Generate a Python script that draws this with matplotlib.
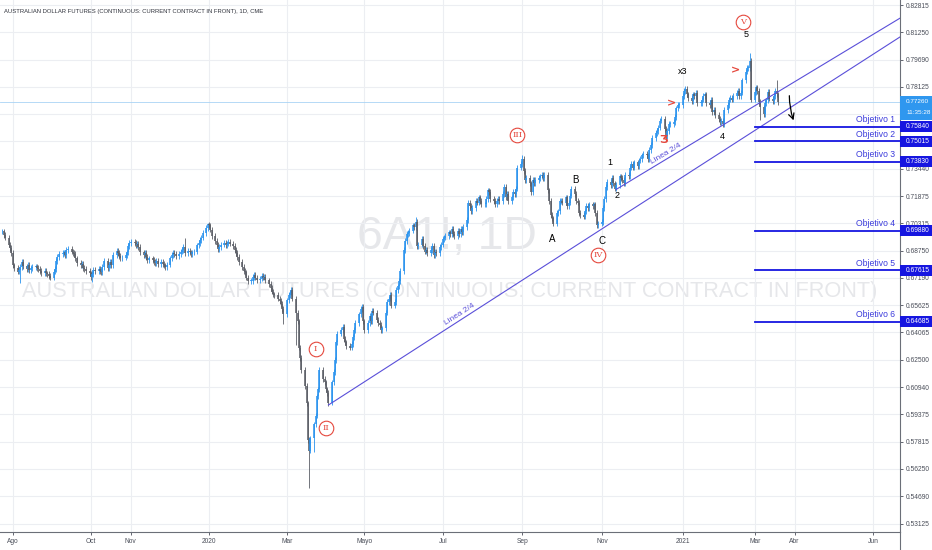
import numpy as np
import pandas as pd
import matplotlib
matplotlib.use("Agg")
import matplotlib.pyplot as plt
import matplotlib.dates as mdates
from matplotlib.patches import Rectangle
from matplotlib.transforms import blended_transform_factory

FONT = ['Liberation Sans Narrow', 'Liberation Sans', 'DejaVu Sans']
plt.rcParams['font.family'] = FONT

TITLE = "AUSTRALIAN DOLLAR FUTURES (CONTINUOUS: CURRENT CONTRACT IN FRONT), 1D, CME"
WATERMARK_1 = "6A1!, 1D"
WATERMARK_2 = "AUSTRALIAN DOLLAR FUTURES (CONTINUOUS: CURRENT CONTRACT IN FRONT)"

# daily closes, in 1/10000 USD, one list per month
close_2019_07 = [6985, 6965, 6950, 6910, 6890, 6860]
close_2019_08 = [6790, 6775, 6755, 6765, 6780, 6810, 6785, 6770, 6795, 6765, 6775,
                 6780, 6785, 6775, 6770, 6760, 6745, 6760, 6745, 6740, 6730, 6720]
close_2019_09 = [6755, 6770, 6815, 6840, 6855, 6860, 6865, 6850, 6880, 6885, 6870,
                 6860, 6855, 6830, 6805, 6790, 6800, 6775, 6770, 6760, 6745]
close_2019_10 = [6725, 6740, 6765, 6760, 6770, 6760, 6750, 6780, 6815, 6775, 6790,
                 6810, 6790, 6850, 6875, 6860, 6845, 6830, 6835, 6850, 6865, 6900, 6920]
close_2019_11 = [6925, 6920, 6905, 6915, 6895, 6865, 6850, 6860, 6840, 6820, 6830,
                 6820, 6810, 6805, 6815, 6800, 6810, 6800, 6790, 6780, 6795]
close_2019_12 = [6830, 6850, 6860, 6855, 6845, 6855, 6870, 6880, 6895, 6860, 6875,
                 6865, 6855, 6865, 6870, 6905, 6920, 6935, 6950, 6975, 7005, 7025]
close_2020_01 = [7020, 6995, 6960, 6930, 6910, 6885, 6895, 6910, 6920, 6905, 6915,
                 6925, 6915, 6900, 6880, 6860, 6840, 6810, 6780, 6760, 6750, 6720, 6700]
close_2020_02 = [6700, 6725, 6735, 6720, 6705, 6715, 6730, 6720, 6725, 6705,
                 6685, 6660, 6640, 6625, 6620, 6600, 6585, 6570, 6540, 6510]
close_2020_03 = [6590, 6620, 6635, 6650, 6600, 6520, 6470, 6320, 6260, 6190, 6100,
                 6000, 5790, 5730, 5800, 5880, 5930, 6040, 6080, 6190, 6140, 6120]
close_2020_04 = [6080, 6060, 6005, 6120, 6180, 6250, 6350, 6400, 6420, 6440, 6370,
                 6350, 6330, 6320, 6340, 6380, 6420, 6460, 6510, 6540, 6555, 6470]
close_2020_05 = [6420, 6460, 6500, 6470, 6530, 6520, 6480, 6460, 6450, 6420, 6430,
                 6520, 6580, 6600, 6620, 6560, 6580, 6650, 6670, 6700, 6760]
close_2020_06 = [6880, 6930, 6970, 6975, 6990, 7020, 7010, 7040, 6900, 6910, 6940,
                 6900, 6870, 6880, 6860, 6880, 6900, 6850, 6870, 6860, 6895, 6910]
close_2020_07 = [6940, 6950, 6960, 6980, 6970, 7000, 6970, 6960, 6990, 6970, 7000,
                 6980, 7010, 7050, 7150, 7130, 7100, 7120, 7160, 7150, 7180, 7160, 7140]
close_2020_08 = [7140, 7170, 7220, 7210, 7170, 7160, 7140, 7160, 7170, 7160, 7200,
                 7240, 7180, 7200, 7160, 7180, 7210, 7200, 7230, 7350, 7370]
close_2020_09 = [7400, 7330, 7280, 7290, 7260, 7210, 7280, 7260, 7280, 7290, 7300,
                 7310, 7290, 7310, 7220, 7160, 7080, 7060, 7030, 7090, 7100, 7160]
close_2020_10 = [7160, 7150, 7180, 7130, 7150, 7190, 7230, 7200, 7160, 7150, 7090,
                 7080, 7070, 7100, 7130, 7120, 7140, 7130, 7140, 7090, 7020, 7030]
close_2020_11 = [7040, 7120, 7170, 7240, 7270, 7250, 7290, 7260, 7230, 7250, 7300,
                 7290, 7280, 7260, 7310, 7300, 7350, 7370, 7350, 7380, 7360]
close_2020_12 = [7390, 7400, 7420, 7430, 7420, 7400, 7450, 7480, 7520, 7550, 7560,
                 7580, 7620, 7630, 7570, 7530, 7560, 7600, 7600, 7610, 7640, 7690, 7710]
close_2021_01 = [7710, 7760, 7790, 7800, 7770, 7750, 7730, 7770, 7760, 7780, 7720,
                 7720, 7740, 7760, 7770, 7720, 7710, 7740, 7670, 7680, 7650]
close_2021_02 = [7630, 7610, 7620, 7600, 7680, 7710, 7740, 7750, 7740, 7760,
                 7780, 7790, 7760, 7780, 7850, 7900, 7920, 7920, 7960, 7740]
close_2021_03 = [7785, 7810, 7790, 7725, 7695, 7655, 7720, 7735, 7785, 7745,
                 7730, 7760, 7790, 7770, 7726]

months = [("2019-07-24", close_2019_07), ("2019-08-01", close_2019_08),
          ("2019-09-01", close_2019_09), ("2019-10-01", close_2019_10),
          ("2019-11-01", close_2019_11), ("2019-12-01", close_2019_12),
          ("2020-01-01", close_2020_01), ("2020-02-01", close_2020_02),
          ("2020-03-01", close_2020_03), ("2020-04-01", close_2020_04),
          ("2020-05-01", close_2020_05), ("2020-06-01", close_2020_06),
          ("2020-07-01", close_2020_07), ("2020-08-01", close_2020_08),
          ("2020-09-01", close_2020_09), ("2020-10-01", close_2020_10),
          ("2020-11-01", close_2020_11), ("2020-12-01", close_2020_12),
          ("2021-01-01", close_2021_01), ("2021-02-01", close_2021_02),
          ("2021-03-01", close_2021_03)]

# the long wicks that stand out
wick_highs = {"2019-12-13": 0.6945, "2019-12-31": 0.7035, "2020-06-10": 0.7065,
              "2020-09-01": 0.7420, "2021-01-06": 0.7820, "2021-02-25": 0.8007,
              "2021-03-18": 0.7850}
wick_lows = {"2019-08-07": 0.6690, "2019-10-02": 0.6695, "2020-02-28": 0.6455,
             "2020-03-09": 0.6335, "2020-03-19": 0.5516, "2020-03-23": 0.5720,
             "2020-04-03": 0.5985, "2021-03-05": 0.7625}

last_price = 0.77260
countdown = "11:35:28"

objective_names = ["Objetivo 1", "Objetivo 2", "Objetivo 3", "Objetivo 4", "Objetivo 5", "Objetivo 6"]
objective_prices = [0.75840, 0.75015, 0.73830, 0.69880, 0.67615, 0.64685]
objective_start = "2021-03-01"

# channel lines (Linea 2/4)
lower_line = [("2020-04-03", 0.5991), ("2021-06-21", 0.8093)]
upper_line = [("2020-11-13", 0.7225), ("2021-06-21", 0.8201)]
lower_line_label = "2020-07-16"
upper_line_label = "2020-12-23"

wave_labels = [("I", "2020-03-24", 0.6312), ("II", "2020-04-01", 0.5859),
               ("III", "2020-08-28", 0.7537), ("IV", "2020-10-30", 0.6850),
               ("V", "2021-02-20", 0.8184)]
point_labels = [("A", "2020-09-24", 0.6942), ("B", "2020-10-12", 0.7280),
                ("C", "2020-11-02", 0.6930), ("1", "2020-11-08", 0.7377),
                ("2", "2020-11-14", 0.7188), ("x3", "2021-01-04", 0.7898),
                ("4", "2021-02-04", 0.7526), ("5", "2021-02-22", 0.8110)]
chevrons = [("2020-12-26", 0.7720), ("2021-02-14", 0.7905)]
zigzag = ("2020-12-20", 0.7508)
arrow_from = ("2021-03-28", 0.7778)
arrow_to = ("2021-04-01", 0.7606)

price_ticks = [n / 64 for n in range(34, 54)]
# 0.75000 and 0.76565 sit under the price boxes and are not visible
price_tick_labels = ["0.53125", "0.54690", "0.56250", "0.57815", "0.59375", "0.60940",
                     "0.62500", "0.64065", "0.65625", "0.67190", "0.68750", "0.70315",
                     "0.71875", "0.73440", "", "", "0.78125", "0.79690",
                     "0.81250", "0.82815"]
x_tick_dates = ["2019-08-01", "2019-10-01", "2019-11-01", "2020-01-01", "2020-03-02",
                "2020-05-01", "2020-07-01", "2020-09-01", "2020-11-02", "2021-01-04",
                "2021-03-01", "2021-04-01", "2021-06-01"]
x_tick_labels = ["Ago", "Oct", "Nov", "2020", "Mar", "Mayo", "Jul", "Sep", "Nov",
                 "2021", "Mar", "Abr", "Jun"]

UP = "#2a93ee"
DOWN = "#5b5e66"
RED = "#e5483d"
CHANNEL = "#5a4fd9"
OBJ = "#1616e0"
OBJ_TEXT = "#3b3bdc"
GRID = "#eceef2"


def d2n(s):
    return mdates.date2num(pd.Timestamp(s))


# build the daily series
dates, closes = [], []
for start, vals in months:
    start = pd.Timestamp(start)
    days = pd.bdate_range(start, start + pd.offsets.MonthEnd(0))[:len(vals)]
    dates.extend(days)
    closes.extend(v / 10000 for v in vals[:len(days)])
closes = np.array(closes)
opens = np.r_[closes[0], closes[:-1]]
pad = 0.0016
highs = np.maximum(opens, closes) + pad
lows = np.minimum(opens, closes) - pad
index = {d: i for i, d in enumerate(dates)}
for d, v in wick_highs.items():
    highs[index[pd.Timestamp(d)]] = v
for d, v in wick_lows.items():
    lows[index[pd.Timestamp(d)]] = v
x = mdates.date2num(dates)
colors = np.where(closes >= opens, UP, DOWN)
body_lo = np.minimum(opens, closes)
body_hi = np.maximum(np.maximum(opens, closes), body_lo + 0.0004)

fig = plt.figure(figsize=(9.32, 5.5), dpi=100)
ax = fig.add_axes([0, 18 / 550, 900 / 932, 532 / 550])
ax.set_facecolor("white")

# pixel scale of the reference: 1.284 px per day, 0.0005726 per px
x0 = d2n("2020-01-01")
ax.set_xlim(x0 - 209 / 1.284, x0 + 691 / 1.284)
ax.set_ylim(0.82815 - 527 * 0.0005726, 0.82815 + 5 * 0.0005726)

ax.set_yticks(price_ticks)
ax.set_yticklabels(price_tick_labels)
ax.set_xticks([d2n(d) for d in x_tick_dates])
ax.set_xticklabels(x_tick_labels)
ax.yaxis.tick_right()
ax.tick_params(axis="y", length=2.5, width=0.6, pad=2, labelsize=4.8,
               colors="#4a4e59")
ax.tick_params(axis="x", length=2, width=0.6, pad=2.5, labelsize=4.8,
               colors="#4a4e59")
ax.grid(True, color=GRID, lw=0.8)
ax.set_axisbelow(True)
for side in ("top", "left"):
    ax.spines[side].set_visible(False)
for side in ("right", "bottom"):
    ax.spines[side].set_color("#6b6f78")
    ax.spines[side].set_linewidth(0.8)

# watermark
wm1 = ax.text(0.497, 1 - 237 / 532, WATERMARK_1, transform=ax.transAxes,
              ha="center", va="center", color="#e6e7ea", fontsize=40, zorder=0)
wm2 = ax.text(0.5, 1 - 292 / 532, WATERMARK_2, transform=ax.transAxes,
              ha="center", va="center", color="#e6e7ea", fontsize=20, zorder=0)
title = fig.text(4 / 932, 1 - 11 / 550, TITLE, ha="left", va="center",
                 color="#2f323b", fontsize=5)

fig.canvas.draw()
renderer = fig.canvas.get_renderer()
for t, w in ((wm1, 180), (wm2, 856), (title, 261)):
    t.set_fontsize(t.get_fontsize() * w / t.get_window_extent(renderer).width)

# last price line
ax.axhline(last_price, color="#a9d3f5", lw=0.6, zorder=1)

# candles
ax.vlines(x, lows, highs, colors=colors, lw=0.6, zorder=3)
ax.vlines(x, body_lo, body_hi, colors=colors, lw=1.15, zorder=3)

# channel lines
for line, lab in ((lower_line, lower_line_label), (upper_line, upper_line_label)):
    (da, pa), (db, pb) = line
    xa, xb = d2n(da), d2n(db)
    slope = (pb - pa) / (xb - xa)
    xe = xb + 60
    ax.plot([xa, xe], [pa, pa + slope * (xe - xa)], color=CHANNEL, lw=0.8, zorder=4)
    xl = d2n(lab)
    yl = pa + slope * (xl - xa)
    p1 = ax.transData.transform((xa, pa))
    p2 = ax.transData.transform((xb, pb))
    ang = np.degrees(np.arctan2(p2[1] - p1[1], p2[0] - p1[0]))
    ax.annotate("Linea 2/4", (xl, yl), xytext=(0, 1.5), textcoords="offset points",
                rotation=ang, rotation_mode="anchor", ha="center", va="bottom",
                color=CHANNEL, fontsize=6, zorder=4)

# objectives
blend = blended_transform_factory(ax.transAxes, ax.transData)
px = 0.0005726
for name, price in zip(objective_names, objective_prices):
    ax.plot([d2n(objective_start), ax.get_xlim()[1]], [price, price],
            color=OBJ, lw=1.3, zorder=4)
    ax.annotate(name, (895 / 900, price), xycoords=blend, xytext=(0, 1.8),
                textcoords="offset points", ha="right", va="bottom",
                color=OBJ_TEXT, fontsize=6.2, zorder=5)
    ax.add_patch(Rectangle((1.0, price - 5.5 * px), 32 / 900, 11 * px,
                           transform=blend, clip_on=False, fc=OBJ, ec="none",
                           zorder=6))
    ax.text(1.0 + 6 / 900, price, "%.5f" % price, transform=blend, ha="left",
            va="center", color="white", fontsize=4.8, zorder=7, clip_on=False)

# last price box
ax.add_patch(Rectangle((1.0, last_price - 18 * px), 32 / 900, 24 * px,
                       transform=blend, clip_on=False, fc="#2f97ef", ec="none",
                       zorder=6))
ax.text(1.0 + 6 / 900, last_price + 0.5 * px, "%.5f" % last_price, transform=blend,
        ha="left", va="center", color="white", fontsize=4.6, zorder=7, clip_on=False)
ax.text(1.0 + 6 / 900, last_price - 10.5 * px, countdown, transform=blend,
        ha="left", va="center", color="white", fontsize=4.6, zorder=7, clip_on=False)

# elliott wave labels
for txt, d, p in wave_labels:
    ax.plot(d2n(d), p, marker="o", ms=10.5, mfc="white", mec=RED, mew=0.8, zorder=6)
    ax.text(d2n(d), p, txt, ha="center", va="center", color=RED, fontsize=6,
            family="DejaVu Serif", zorder=7)
for txt, d, p in point_labels:
    ax.text(d2n(d), p, txt, ha="center", va="center", color="black",
            fontsize=7 if txt in "ABC" else 6.5, zorder=6)
for d, p in chevrons:
    ax.text(d2n(d), p, ">", ha="center", va="center", color=RED, fontsize=8,
            fontweight="bold", family="DejaVu Sans", zorder=6)
ax.text(d2n(zigzag[0]), zigzag[1], "\u01b7", ha="center", va="center", color=RED,
        fontsize=8, fontweight="bold", family="DejaVu Sans", zorder=6)
ax.annotate("", xy=(d2n(arrow_to[0]), arrow_to[1]),
            xytext=(d2n(arrow_from[0]), arrow_from[1]),
            arrowprops=dict(arrowstyle="->", color="black", lw=0.9,
                            connectionstyle="arc3,rad=0.1"), zorder=6)

fig.add_artist(plt.Line2D([900 / 932, 900 / 932], [0, 18 / 550], color="#6b6f78",
                          lw=0.8, transform=fig.transFigure))

fig.savefig("out.png", dpi=100)
